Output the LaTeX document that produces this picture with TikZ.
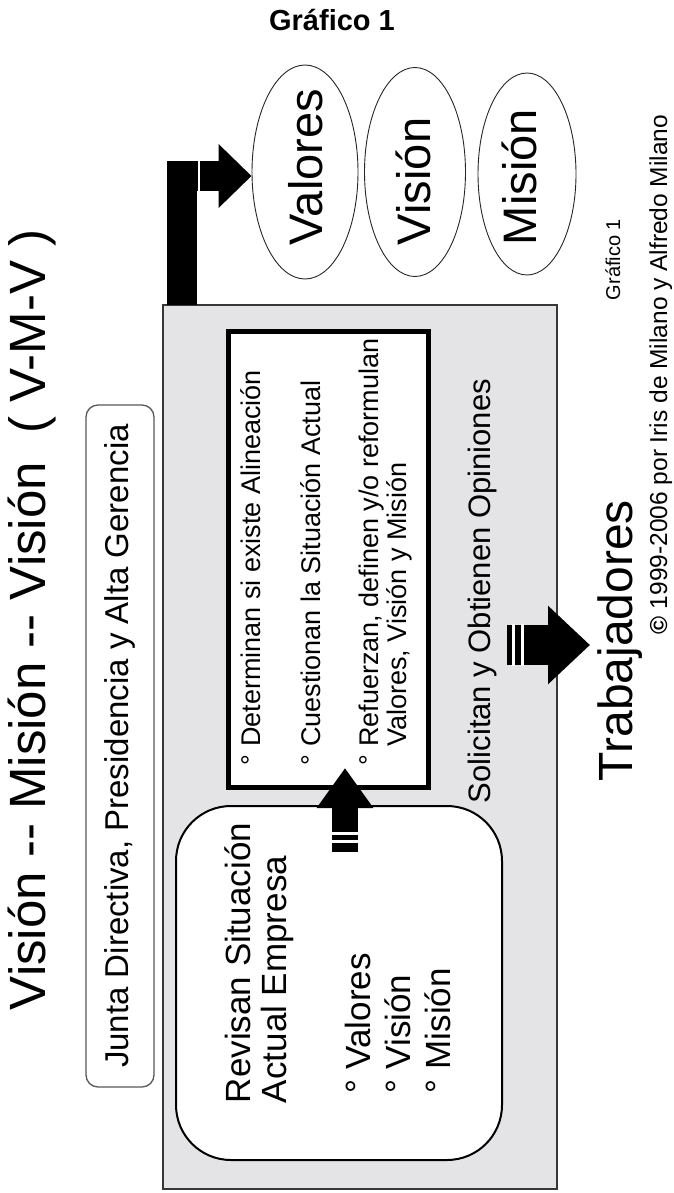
\documentclass[tikz,border=0pt]{standalone}
\usepackage{fontspec}
\setmainfont{Liberation Sans}
\usetikzlibrary{arrows.meta,shapes.geometric,calc}
\definecolor{panelgray}{RGB}{228,228,230}
\definecolor{edgegray}{RGB}{55,55,55}
\newcommand\setfs[1]{\fontsize{#1}{#1}\selectfont}
\begin{document}
\begin{tikzpicture}[x=1pt,y=-1pt,
  rot/.style={rotate=90,anchor=base west,inner sep=0pt,outer sep=0pt},
  oval/.style={ellipse,draw=black!85,line width=0.9pt,inner sep=0pt,fill=white},
  stripe/.style={draw=white,line width=2.5pt},
  bigarrow/.style={draw=black,line cap=butt,line join=miter}]
\useasboundingbox (0,0) rectangle (673,1193);
\fill[white] (0,0) rectangle (673,1193);

% title
\node[font=\bfseries\setfs{29},anchor=base,inner sep=0pt] (title) at (332,31) {Gráfico 1};

% left big title
\node[rot,font=\setfs{51}] (vmv) at (45,1010) {Visión -{}- Misión -{}- Visión\ \ ( V-M-V )};

% Junta box
\node[draw=black!65,line width=1.3pt,rounded corners=12pt,fill=white,rotate=90,
  minimum width=682pt,minimum height=68pt,inner sep=0pt,font=\setfs{33}] (junta) at (120,746)
  {Junta Directiva, Presidencia y Alta Gerencia};

% grey panel
\node[draw=edgegray,line width=1.2pt,fill=panelgray,minimum width=394pt,minimum height=884pt,inner sep=0pt] (panel) at (360,747) {};

% black-bordered list box
\node[draw=black,line width=5pt,fill=white,minimum width=200pt,minimum height=456pt,inner sep=0pt] (listbox) at (328,559) {};
\node[rot,font=\setfs{27}] (it1) at (260,765) {°\ Determinan si existe Alineación};
\node[rot,font=\setfs{27}] (it2) at (320,765) {°\ Cuestionan la Situación Actual};
\node[rot,font=\setfs{27}] (it3) at (378,765) {°\ Refuerzan, definen y/o reformulan};
\node[rot,font=\setfs{27}] (it3b) at (406,746.7) {Valores, Visión y Misión};

% rounded review box
\node[draw=black,line width=2pt,fill=white,rounded corners=55pt,minimum width=326pt,minimum height=354pt,inner sep=0pt] (review) at (339,983) {};
\node[rot,font=\setfs{35}] (r1) at (250,1103) {Revisan Situación};
\node[rot,font=\setfs{35}] (r2) at (286,1103) {Actual Empresa};
\node[rot,font=\setfs{35}] (r3) at (370,1093) {°\ Valores};
\node[rot,font=\setfs{35}] (r4) at (410,1093) {°\ Visión};
\node[rot,font=\setfs{35}] (r5) at (450,1093) {°\ Misión};

% panel caption
\node[rot,font=\setfs{31}] (sol) at (490,803) {Solicitan y Obtienen Opiniones};

% ellipses
\node[oval,minimum width=106pt,minimum height=214pt] (e1) at (305,172) {};
\node[oval,minimum width=101pt,minimum height=209pt] (e2) at (415,172) {};
\node[oval,minimum width=98pt,minimum height=202pt] (e3) at (527,174) {};
\node[rot,font=\setfs{47}] (t1) at (322,245) {Valores};
\node[rot,font=\setfs{47}] (t2) at (430,245) {Visión};
\node[rot,font=\setfs{47}] (t3) at (536,245) {Misión};

% right side texts
\node[rot,font=\setfs{48}] (trab) at (632,781) {Trabajadores};
\node[rot,font=\setfs{20}] (g1) at (620,300) {Gráfico 1};
\node[rot,font=\setfs{24.5}] (copy) at (667,634) {{\bfseries ©} 1999-2006 por Iris de Milano y Alfredo Milano};

% L arrow: panel -> Valores
\coordinate (lstart) at (182,305);
\draw[bigarrow,line width=30pt,-{Triangle[length=33pt,width=62pt]}] (lstart) |- ($(e1.west)+(0,4)$);
\draw[stripe,line width=1.6pt] (199,161) -- (199,191);

% up arrow: review -> list box
\coordinate (ustart) at (345,852);
\coordinate (utip) at (345,768);
\draw[bigarrow,line width=26pt,-{Triangle[length=40pt,width=54pt]}] (ustart) -- (utip);
\draw[stripe] (331,833.5) -- (359,833.5);
\draw[stripe] (331,841.5) -- (359,841.5);

% right arrow: panel -> Trabajadores
\coordinate (tstart) at (507,645);
\coordinate (ttip) at (590,645);
\draw[bigarrow,line width=40pt,-{Triangle[length=42pt,width=76pt]}] (tstart) -- (ttip);
\draw[stripe] (513.5,624) -- (513.5,666);
\draw[stripe] (522.5,624) -- (522.5,666);
\end{tikzpicture}
\end{document}
